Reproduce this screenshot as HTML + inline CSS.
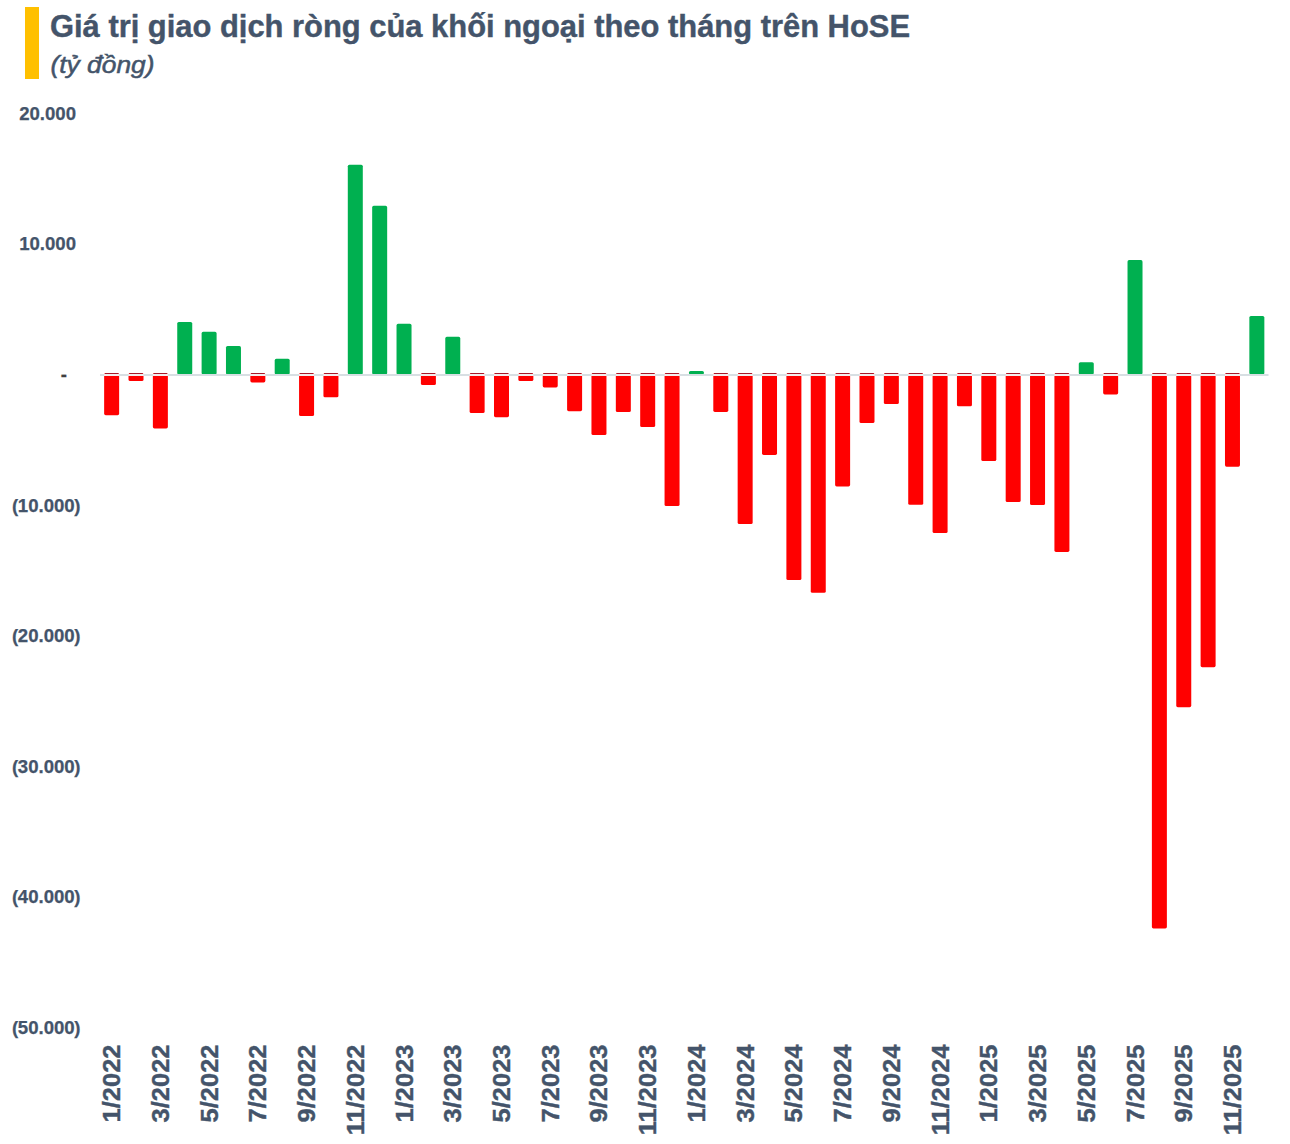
<!DOCTYPE html>
<html><head><meta charset="utf-8"><style>
html,body{margin:0;padding:0;background:#fff;width:1290px;height:1144px;overflow:hidden}
svg{display:block}
text{font-family:"Liberation Sans",sans-serif;fill:#44546A}
.yl{font-weight:bold;font-size:18.6px;stroke:#44546A;stroke-width:0.25px}
.xl{font-weight:bold;font-size:23.7px;stroke:#44546A;stroke-width:0.4px}
.t{font-weight:bold;font-size:31px;stroke:#44546A;stroke-width:0.4px}
.st{font-style:italic;font-size:24px;stroke:#44546A;stroke-width:0.5px}
</style></head><body>
<svg width="1290" height="1144" viewBox="0 0 1290 1144">
<rect x="25" y="7" width="14" height="72" fill="#FFC000"/>
<text x="50" y="37" class="t" textLength="860" lengthAdjust="spacingAndGlyphs">Giá trị giao dịch ròng của khối ngoại theo tháng trên HoSE</text>
<text x="50.5" y="73" class="st" textLength="104" lengthAdjust="spacingAndGlyphs">(tỷ đồng)</text>
<text x="76.0" y="120.0" text-anchor="end" class="yl">20.000</text><text x="76.0" y="250.4" text-anchor="end" class="yl">10.000</text><text x="67" y="380.8" text-anchor="end" class="yl" style="fill:#404040;stroke:#404040">-</text><text x="74.7" y="511.7" text-anchor="end" class="yl">10.000</text><text x="74.3" y="511.7" class="yl">)</text><text x="12.0" y="511.7" class="yl">(</text><text x="74.7" y="642.2" text-anchor="end" class="yl">20.000</text><text x="74.3" y="642.2" class="yl">)</text><text x="12.0" y="642.2" class="yl">(</text><text x="74.7" y="772.8" text-anchor="end" class="yl">30.000</text><text x="74.3" y="772.8" class="yl">)</text><text x="12.0" y="772.8" class="yl">(</text><text x="74.7" y="903.3" text-anchor="end" class="yl">40.000</text><text x="74.3" y="903.3" class="yl">)</text><text x="12.0" y="903.3" class="yl">(</text><text x="74.7" y="1033.8" text-anchor="end" class="yl">50.000</text><text x="74.3" y="1033.8" class="yl">)</text><text x="12.0" y="1033.8" class="yl">(</text>
<rect x="104.14" y="373.00" width="15.0" height="42.20" rx="1.6" fill="#FF0000"/><rect x="104.94" y="373.00" width="13.4" height="1.1" fill="#A81A2A"/><rect x="128.51" y="373.00" width="15.0" height="8.10" rx="1.6" fill="#FF0000"/><rect x="129.31" y="373.00" width="13.4" height="1.1" fill="#A81A2A"/><rect x="152.87" y="373.00" width="15.0" height="55.40" rx="1.6" fill="#FF0000"/><rect x="153.67" y="373.00" width="13.4" height="1.1" fill="#A81A2A"/><rect x="177.24" y="322.00" width="15.0" height="52.50" rx="1.6" fill="#00B050"/><rect x="201.61" y="331.80" width="15.0" height="42.70" rx="1.6" fill="#00B050"/><rect x="225.97" y="346.00" width="15.0" height="28.50" rx="1.6" fill="#00B050"/><rect x="250.34" y="373.00" width="15.0" height="9.40" rx="1.6" fill="#FF0000"/><rect x="251.14" y="373.00" width="13.4" height="1.1" fill="#A81A2A"/><rect x="274.70" y="358.80" width="15.0" height="15.70" rx="1.6" fill="#00B050"/><rect x="299.07" y="373.00" width="15.0" height="43.10" rx="1.6" fill="#FF0000"/><rect x="299.87" y="373.00" width="13.4" height="1.1" fill="#A81A2A"/><rect x="323.44" y="373.00" width="15.0" height="24.30" rx="1.6" fill="#FF0000"/><rect x="324.24" y="373.00" width="13.4" height="1.1" fill="#A81A2A"/><rect x="347.80" y="164.70" width="15.0" height="209.80" rx="1.6" fill="#00B050"/><rect x="372.17" y="205.80" width="15.0" height="168.70" rx="1.6" fill="#00B050"/><rect x="396.53" y="323.80" width="15.0" height="50.70" rx="1.6" fill="#00B050"/><rect x="420.90" y="373.00" width="15.0" height="12.00" rx="1.6" fill="#FF0000"/><rect x="421.70" y="373.00" width="13.4" height="1.1" fill="#A81A2A"/><rect x="445.27" y="336.80" width="15.0" height="37.70" rx="1.6" fill="#00B050"/><rect x="469.63" y="373.00" width="15.0" height="40.10" rx="1.6" fill="#FF0000"/><rect x="470.43" y="373.00" width="13.4" height="1.1" fill="#A81A2A"/><rect x="494.00" y="373.00" width="15.0" height="44.20" rx="1.6" fill="#FF0000"/><rect x="494.80" y="373.00" width="13.4" height="1.1" fill="#A81A2A"/><rect x="518.36" y="373.00" width="15.0" height="8.10" rx="1.6" fill="#FF0000"/><rect x="519.16" y="373.00" width="13.4" height="1.1" fill="#A81A2A"/><rect x="542.73" y="373.00" width="15.0" height="14.40" rx="1.6" fill="#FF0000"/><rect x="543.53" y="373.00" width="13.4" height="1.1" fill="#A81A2A"/><rect x="567.10" y="373.00" width="15.0" height="38.20" rx="1.6" fill="#FF0000"/><rect x="567.90" y="373.00" width="13.4" height="1.1" fill="#A81A2A"/><rect x="591.46" y="373.00" width="15.0" height="62.00" rx="1.6" fill="#FF0000"/><rect x="592.26" y="373.00" width="13.4" height="1.1" fill="#A81A2A"/><rect x="615.83" y="373.00" width="15.0" height="39.10" rx="1.6" fill="#FF0000"/><rect x="616.63" y="373.00" width="13.4" height="1.1" fill="#A81A2A"/><rect x="640.19" y="373.00" width="15.0" height="54.00" rx="1.6" fill="#FF0000"/><rect x="640.99" y="373.00" width="13.4" height="1.1" fill="#A81A2A"/><rect x="664.56" y="373.00" width="15.0" height="133.10" rx="1.6" fill="#FF0000"/><rect x="665.36" y="373.00" width="13.4" height="1.1" fill="#A81A2A"/><rect x="688.93" y="371.00" width="15.0" height="3.50" rx="1.6" fill="#00B050"/><rect x="713.29" y="373.00" width="15.0" height="38.90" rx="1.6" fill="#FF0000"/><rect x="714.09" y="373.00" width="13.4" height="1.1" fill="#A81A2A"/><rect x="737.66" y="373.00" width="15.0" height="151.10" rx="1.6" fill="#FF0000"/><rect x="738.46" y="373.00" width="13.4" height="1.1" fill="#A81A2A"/><rect x="762.02" y="373.00" width="15.0" height="81.90" rx="1.6" fill="#FF0000"/><rect x="762.82" y="373.00" width="13.4" height="1.1" fill="#A81A2A"/><rect x="786.39" y="373.00" width="15.0" height="207.10" rx="1.6" fill="#FF0000"/><rect x="787.19" y="373.00" width="13.4" height="1.1" fill="#A81A2A"/><rect x="810.76" y="373.00" width="15.0" height="219.80" rx="1.6" fill="#FF0000"/><rect x="811.56" y="373.00" width="13.4" height="1.1" fill="#A81A2A"/><rect x="835.12" y="373.00" width="15.0" height="113.40" rx="1.6" fill="#FF0000"/><rect x="835.92" y="373.00" width="13.4" height="1.1" fill="#A81A2A"/><rect x="859.49" y="373.00" width="15.0" height="50.00" rx="1.6" fill="#FF0000"/><rect x="860.29" y="373.00" width="13.4" height="1.1" fill="#A81A2A"/><rect x="883.85" y="373.00" width="15.0" height="31.10" rx="1.6" fill="#FF0000"/><rect x="884.65" y="373.00" width="13.4" height="1.1" fill="#A81A2A"/><rect x="908.22" y="373.00" width="15.0" height="131.80" rx="1.6" fill="#FF0000"/><rect x="909.02" y="373.00" width="13.4" height="1.1" fill="#A81A2A"/><rect x="932.59" y="373.00" width="15.0" height="160.10" rx="1.6" fill="#FF0000"/><rect x="933.39" y="373.00" width="13.4" height="1.1" fill="#A81A2A"/><rect x="956.95" y="373.00" width="15.0" height="33.30" rx="1.6" fill="#FF0000"/><rect x="957.75" y="373.00" width="13.4" height="1.1" fill="#A81A2A"/><rect x="981.32" y="373.00" width="15.0" height="88.00" rx="1.6" fill="#FF0000"/><rect x="982.12" y="373.00" width="13.4" height="1.1" fill="#A81A2A"/><rect x="1005.68" y="373.00" width="15.0" height="129.10" rx="1.6" fill="#FF0000"/><rect x="1006.48" y="373.00" width="13.4" height="1.1" fill="#A81A2A"/><rect x="1030.05" y="373.00" width="15.0" height="132.10" rx="1.6" fill="#FF0000"/><rect x="1030.85" y="373.00" width="13.4" height="1.1" fill="#A81A2A"/><rect x="1054.42" y="373.00" width="15.0" height="178.90" rx="1.6" fill="#FF0000"/><rect x="1055.22" y="373.00" width="13.4" height="1.1" fill="#A81A2A"/><rect x="1078.78" y="362.20" width="15.0" height="12.30" rx="1.6" fill="#00B050"/><rect x="1103.15" y="373.00" width="15.0" height="21.40" rx="1.6" fill="#FF0000"/><rect x="1103.95" y="373.00" width="13.4" height="1.1" fill="#A81A2A"/><rect x="1127.52" y="260.10" width="15.0" height="114.40" rx="1.6" fill="#00B050"/><rect x="1151.88" y="373.00" width="15.0" height="555.40" rx="1.6" fill="#FF0000"/><rect x="1152.68" y="373.00" width="13.4" height="1.1" fill="#A81A2A"/><rect x="1176.25" y="373.00" width="15.0" height="334.20" rx="1.6" fill="#FF0000"/><rect x="1177.05" y="373.00" width="13.4" height="1.1" fill="#A81A2A"/><rect x="1200.61" y="373.00" width="15.0" height="294.20" rx="1.6" fill="#FF0000"/><rect x="1201.41" y="373.00" width="13.4" height="1.1" fill="#A81A2A"/><rect x="1224.98" y="373.00" width="15.0" height="93.70" rx="1.6" fill="#FF0000"/><rect x="1225.78" y="373.00" width="13.4" height="1.1" fill="#A81A2A"/><rect x="1249.35" y="315.90" width="15.0" height="58.60" rx="1.6" fill="#00B050"/>
<rect x="100" y="374" width="1168.5" height="2" fill="#D8DFE3"/>
<rect x="104.14" y="374" width="15.0" height="2" fill="#F3EEEE"/><rect x="128.51" y="374" width="15.0" height="2" fill="#F3EEEE"/><rect x="152.87" y="374" width="15.0" height="2" fill="#F3EEEE"/><rect x="250.34" y="374" width="15.0" height="2" fill="#F3EEEE"/><rect x="299.07" y="374" width="15.0" height="2" fill="#F3EEEE"/><rect x="323.44" y="374" width="15.0" height="2" fill="#F3EEEE"/><rect x="420.90" y="374" width="15.0" height="2" fill="#F3EEEE"/><rect x="469.63" y="374" width="15.0" height="2" fill="#F3EEEE"/><rect x="494.00" y="374" width="15.0" height="2" fill="#F3EEEE"/><rect x="518.36" y="374" width="15.0" height="2" fill="#F3EEEE"/><rect x="542.73" y="374" width="15.0" height="2" fill="#F3EEEE"/><rect x="567.10" y="374" width="15.0" height="2" fill="#F3EEEE"/><rect x="591.46" y="374" width="15.0" height="2" fill="#F3EEEE"/><rect x="615.83" y="374" width="15.0" height="2" fill="#F3EEEE"/><rect x="640.19" y="374" width="15.0" height="2" fill="#F3EEEE"/><rect x="664.56" y="374" width="15.0" height="2" fill="#F3EEEE"/><rect x="713.29" y="374" width="15.0" height="2" fill="#F3EEEE"/><rect x="737.66" y="374" width="15.0" height="2" fill="#F3EEEE"/><rect x="762.02" y="374" width="15.0" height="2" fill="#F3EEEE"/><rect x="786.39" y="374" width="15.0" height="2" fill="#F3EEEE"/><rect x="810.76" y="374" width="15.0" height="2" fill="#F3EEEE"/><rect x="835.12" y="374" width="15.0" height="2" fill="#F3EEEE"/><rect x="859.49" y="374" width="15.0" height="2" fill="#F3EEEE"/><rect x="883.85" y="374" width="15.0" height="2" fill="#F3EEEE"/><rect x="908.22" y="374" width="15.0" height="2" fill="#F3EEEE"/><rect x="932.59" y="374" width="15.0" height="2" fill="#F3EEEE"/><rect x="956.95" y="374" width="15.0" height="2" fill="#F3EEEE"/><rect x="981.32" y="374" width="15.0" height="2" fill="#F3EEEE"/><rect x="1005.68" y="374" width="15.0" height="2" fill="#F3EEEE"/><rect x="1030.05" y="374" width="15.0" height="2" fill="#F3EEEE"/><rect x="1054.42" y="374" width="15.0" height="2" fill="#F3EEEE"/><rect x="1103.15" y="374" width="15.0" height="2" fill="#F3EEEE"/><rect x="1151.88" y="374" width="15.0" height="2" fill="#F3EEEE"/><rect x="1176.25" y="374" width="15.0" height="2" fill="#F3EEEE"/><rect x="1200.61" y="374" width="15.0" height="2" fill="#F3EEEE"/><rect x="1224.98" y="374" width="15.0" height="2" fill="#F3EEEE"/>
<text transform="translate(120.14,1044.5) rotate(-90) scale(1.075,1)" text-anchor="end" class="xl">1/2022</text><text transform="translate(168.87,1044.5) rotate(-90) scale(1.075,1)" text-anchor="end" class="xl">3/2022</text><text transform="translate(217.61,1044.5) rotate(-90) scale(1.075,1)" text-anchor="end" class="xl">5/2022</text><text transform="translate(266.34,1044.5) rotate(-90) scale(1.075,1)" text-anchor="end" class="xl">7/2022</text><text transform="translate(315.07,1044.5) rotate(-90) scale(1.075,1)" text-anchor="end" class="xl">9/2022</text><text transform="translate(363.80,1044.5) rotate(-90) scale(1.075,1)" text-anchor="end" class="xl">11/2022</text><text transform="translate(412.53,1044.5) rotate(-90) scale(1.075,1)" text-anchor="end" class="xl">1/2023</text><text transform="translate(461.27,1044.5) rotate(-90) scale(1.075,1)" text-anchor="end" class="xl">3/2023</text><text transform="translate(510.00,1044.5) rotate(-90) scale(1.075,1)" text-anchor="end" class="xl">5/2023</text><text transform="translate(558.73,1044.5) rotate(-90) scale(1.075,1)" text-anchor="end" class="xl">7/2023</text><text transform="translate(607.46,1044.5) rotate(-90) scale(1.075,1)" text-anchor="end" class="xl">9/2023</text><text transform="translate(656.19,1044.5) rotate(-90) scale(1.075,1)" text-anchor="end" class="xl">11/2023</text><text transform="translate(704.93,1044.5) rotate(-90) scale(1.075,1)" text-anchor="end" class="xl">1/2024</text><text transform="translate(753.66,1044.5) rotate(-90) scale(1.075,1)" text-anchor="end" class="xl">3/2024</text><text transform="translate(802.39,1044.5) rotate(-90) scale(1.075,1)" text-anchor="end" class="xl">5/2024</text><text transform="translate(851.12,1044.5) rotate(-90) scale(1.075,1)" text-anchor="end" class="xl">7/2024</text><text transform="translate(899.85,1044.5) rotate(-90) scale(1.075,1)" text-anchor="end" class="xl">9/2024</text><text transform="translate(948.59,1044.5) rotate(-90) scale(1.075,1)" text-anchor="end" class="xl">11/2024</text><text transform="translate(997.32,1044.5) rotate(-90) scale(1.075,1)" text-anchor="end" class="xl">1/2025</text><text transform="translate(1046.05,1044.5) rotate(-90) scale(1.075,1)" text-anchor="end" class="xl">3/2025</text><text transform="translate(1094.78,1044.5) rotate(-90) scale(1.075,1)" text-anchor="end" class="xl">5/2025</text><text transform="translate(1143.52,1044.5) rotate(-90) scale(1.075,1)" text-anchor="end" class="xl">7/2025</text><text transform="translate(1192.25,1044.5) rotate(-90) scale(1.075,1)" text-anchor="end" class="xl">9/2025</text><text transform="translate(1240.98,1044.5) rotate(-90) scale(1.075,1)" text-anchor="end" class="xl">11/2025</text>
</svg>
</body></html>
